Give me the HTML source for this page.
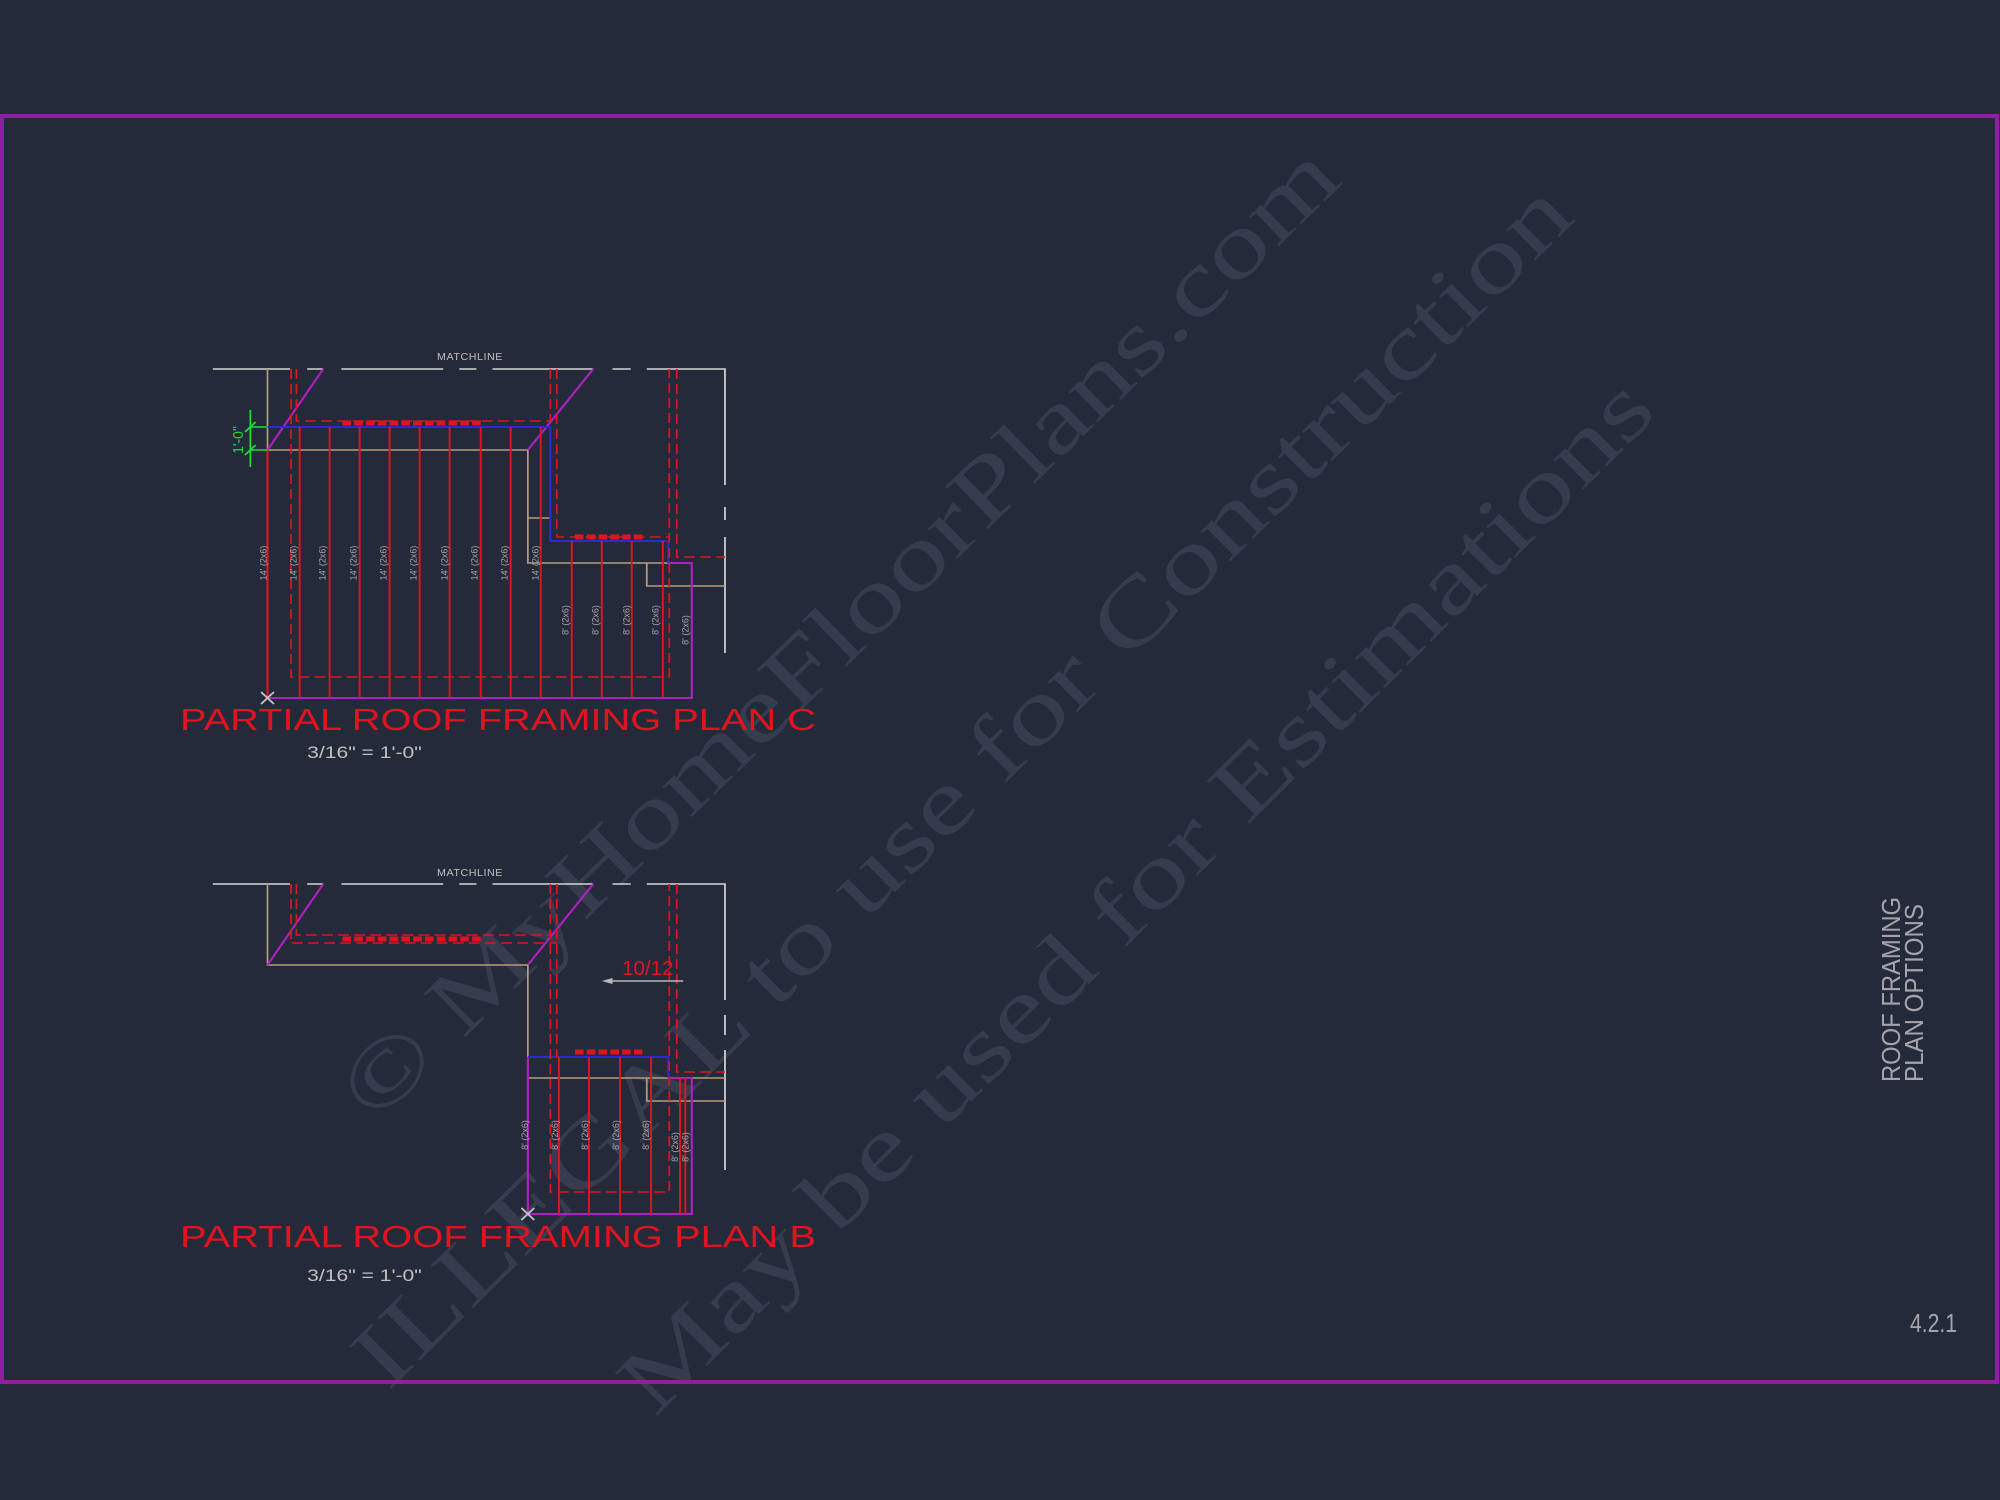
<!DOCTYPE html>
<html><head><meta charset="utf-8"><style>
html,body{margin:0;padding:0;background:#252a3b;}
svg{display:block;}
</style></head><body>
<svg width="2000" height="1500" viewBox="0 0 2000 1500" xmlns="http://www.w3.org/2000/svg">
<rect width="2000" height="1500" fill="#252a3b"/>
<!-- watermark -->
<g font-family="Liberation Serif, serif" fill="#363b4e" font-size="92">
<text x="375" y="1125" transform="rotate(-44.2 375 1125)" textLength="1352" lengthAdjust="spacingAndGlyphs">© MyHomeFloorPlans.com</text>
<text x="388" y="1392" transform="rotate(-44.6 388 1392)" textLength="1670" lengthAdjust="spacingAndGlyphs">ILLEGAL to use for Construction</text>
<text x="655" y="1418" transform="rotate(-45 655 1418)" textLength="1420" lengthAdjust="spacingAndGlyphs">May be used for Estimations</text>
</g>
<!-- frame -->
<rect x="2" y="116" width="1995" height="1266" fill="none" stroke="#8e1fa0" stroke-width="4"/>

<g transform="translate(200 0) scale(1.0714 1) translate(-200 0)">
<g fill="none" stroke-width="1.6">
<!-- ===== PLAN C ===== -->
<g stroke="#d4d4d4">
<path d="M212 369H284M300 369H315M332 369H427M442 369H458M473 369H567M585 369H602M617 369H690V485M690 507V520M690 537V653"/>
</g>
<path stroke="#b49c7c" d="M263 369V450H506V563H637M506 518H527M617 563V586H690"/>
<path stroke="#e0141e" stroke-width="2" d="M263 450V698"/>
<path stroke="#b020c0" stroke-width="2" d="M263 698H659V563H637M263 450L315 369M506 450L567 369"/>
<path stroke="#2a2ad0" stroke-width="2" d="M263 427H527V541H637V563"/>
<path stroke="#e0141e" stroke-dasharray="10 5" d="M285 369V677H638V369M290 369V421H527M527 369V421M533 369V537H637M645 369V557H690"/>
<path stroke="#e0141e" stroke-width="5" stroke-dasharray="8 3" d="M333 423H462M550 537H615"/>
<g stroke="#e0141e" stroke-width="1.8">
<path d="M293 427V698M321 427V698M349 427V698M377 427V698M405 427V698M433 427V698M462 427V698M490 427V698M518 427V698M547 541V698M575 541V698M603 541V698M632 541V698"/>
</g>
<path stroke="#22dd33" stroke-width="1.6" d="M247 410V467M247 427H263M247 450H263M242 432L252 422M242 455L252 445"/>
<path stroke="#c8c8c8" d="M257 692L269 704M269 692L257 704"/>

<!-- ===== PLAN B ===== -->
<g stroke="#d4d4d4">
<path d="M212 884H284M300 884H315M332 884H427M442 884H458M473 884H567M585 884H602M617 884H690V1000M690 1015V1035M690 1050V1170"/>
</g>
<path stroke="#b49c7c" d="M263 884V965H506V1057M506 1078H690M617 1078V1101H690"/>
<path stroke="#b020c0" stroke-width="2" d="M263 965L315 884M506 965L567 884M506 1057V1214H659V1078H637"/>
<path stroke="#2a2ad0" stroke-width="2" d="M506 1057H637V1078"/>
<path stroke="#e0141e" stroke-dasharray="10 5" d="M285 884V943H533M290 884V935H527M527 884V1192H638V884M533 884V1057M645 884V1072H690"/>
<path stroke="#e0141e" stroke-width="5" stroke-dasharray="8 3" d="M333 939H462M550 1052H615"/>
<g stroke="#e0141e" stroke-width="1.8">
<path d="M535 1057V1214M563 1057V1214M592 1057V1214M621 1057V1214M648 1078V1214M653 1078V1214"/>
</g>
<path stroke="#c8c8c8" d="M500 1208L512 1220M512 1208L500 1220"/>
<path stroke="#b8b8b8" d="M580 981H651"/>
</g>
<path fill="#b8b8b8" d="M575 981L585 978V984Z"/>

<g font-family="Liberation Sans, sans-serif" fill="#c0c0c0">
<text x="452" y="360" font-size="10" text-anchor="middle" letter-spacing="0.5">MATCHLINE</text>
<text x="452" y="876" font-size="10" text-anchor="middle" letter-spacing="0.5">MATCHLINE</text>
<text x="300" y="758" font-size="17" textLength="107" lengthAdjust="spacingAndGlyphs">3/16" = 1'-0"</text>
<text x="300" y="1281" font-size="17" textLength="107" lengthAdjust="spacingAndGlyphs">3/16" = 1'-0"</text>
</g>
<g font-family="Liberation Sans, sans-serif" font-size="9" fill="#a8a8a8" text-anchor="middle">
<text transform="translate(262 563) rotate(-90)">14' (2x6)</text>
<text transform="translate(290 563) rotate(-90)">14' (2x6)</text>
<text transform="translate(317 563) rotate(-90)">14' (2x6)</text>
<text transform="translate(346 563) rotate(-90)">14' (2x6)</text>
<text transform="translate(374 563) rotate(-90)">14' (2x6)</text>
<text transform="translate(402 563) rotate(-90)">14' (2x6)</text>
<text transform="translate(431 563) rotate(-90)">14' (2x6)</text>
<text transform="translate(459 563) rotate(-90)">14' (2x6)</text>
<text transform="translate(487 563) rotate(-90)">14' (2x6)</text>
<text transform="translate(516 563) rotate(-90)">14' (2x6)</text>
<text transform="translate(544 620) rotate(-90)">8' (2x6)</text>
<text transform="translate(572 620) rotate(-90)">8' (2x6)</text>
<text transform="translate(601 620) rotate(-90)">8' (2x6)</text>
<text transform="translate(628 620) rotate(-90)">8' (2x6)</text>
<text transform="translate(656 630) rotate(-90)">8' (2x6)</text>
<text transform="translate(506 1135) rotate(-90)">8' (2x6)</text>
<text transform="translate(534 1135) rotate(-90)">8' (2x6)</text>
<text transform="translate(562 1135) rotate(-90)">8' (2x6)</text>
<text transform="translate(591 1135) rotate(-90)">8' (2x6)</text>
<text transform="translate(619 1135) rotate(-90)">8' (2x6)</text>
<text transform="translate(646 1147) rotate(-90)">8' (2x6)</text>
<text transform="translate(656 1147) rotate(-90)">8' (2x6)</text>
</g>
<text transform="translate(240 440) rotate(-90)" font-family="Liberation Sans, sans-serif" font-size="14" fill="#22dd33" text-anchor="middle">1'-0"</text>
<text x="594" y="975" font-family="Liberation Sans, sans-serif" fill="#e0141e" font-size="20" textLength="48" lengthAdjust="spacingAndGlyphs">10/12</text>
</g>

<g font-family="Liberation Sans, sans-serif" fill="#e0141e" font-size="31">
<text x="180" y="730" textLength="636" lengthAdjust="spacingAndGlyphs">PARTIAL ROOF FRAMING PLAN C</text>
<text x="180" y="1247" textLength="636" lengthAdjust="spacingAndGlyphs">PARTIAL ROOF FRAMING PLAN B</text>
</g>
<g font-family="Liberation Sans, sans-serif" fill="#a4a4ac" font-size="26">
<text transform="translate(1900 1082) rotate(-90)" textLength="185" lengthAdjust="spacingAndGlyphs">ROOF FRAMING</text>
<text transform="translate(1923 1082) rotate(-90)" textLength="178" lengthAdjust="spacingAndGlyphs">PLAN OPTIONS</text>
<text x="1910" y="1332" textLength="47" lengthAdjust="spacingAndGlyphs">4.2.1</text>
</g>
</svg>
</body></html>
